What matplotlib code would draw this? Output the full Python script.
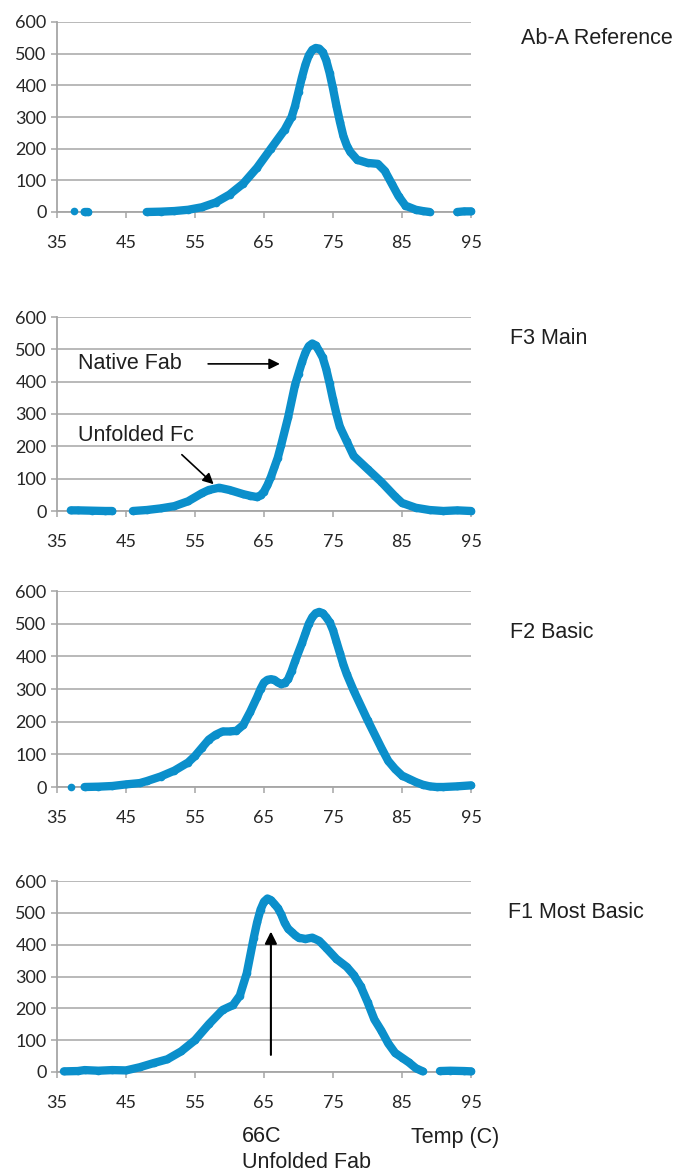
import numpy as np
import matplotlib

matplotlib.use("Agg")
import matplotlib.pyplot as plt

nan = np.nan

# Ab-A Reference
temp_ref = [37.5, nan, 39.0, 39.5, nan,
            48, 50, 52, 54, 56, 58, 60, 62, 64, 66, 68, 69, 69.5, 70, 70.5, 71,
            71.5, 72, 72.5, 73, 73.5, 74, 74.5, 75, 75.5, 76, 76.5, 77, 77.5,
            78.5, 80, 81.5, 82.5, 83.5, 84.5, 85.5, 87, 88, 89, nan, 93, 94, 95]
signal_ref = [3, nan, 0, 0, nan,
              0, 1, 3, 7, 15, 30, 55, 90, 140, 200, 260, 300, 335, 380, 425, 465,
              495, 512, 518, 516, 505, 480, 440, 390, 335, 285, 240, 210, 190,
              165, 155, 152, 130, 90, 50, 20, 7, 3, 0, nan, 0, 2, 2]

# F3 Main
temp_f3 = [37, 38, 40, 42, 43, nan,
           46, 48, 50, 52, 54, 56, 57, 58.5, 60, 62, 63, 64, 64.5, 65, 65.5,
           66, 66.5, 67, 67.5, 68.5, 69.5, 70, 70.5, 71, 71.5, 72, 72.5, 73,
           73.5, 74, 74.5, 75, 75.5, 76, 77, 78, 80, 82, 84, 85, 87, 89, 91,
           93, 95]
signal_f3 = [2, 2, 1, 0, 0, nan,
             0, 3, 8, 15, 30, 55, 65, 72, 65, 52, 47, 43, 48, 60, 80,
             105, 135, 165, 205, 290, 390, 425, 460, 490, 510, 518, 512, 495,
             475, 440, 395, 345, 300, 260, 215, 170, 130, 90, 45, 25, 10, 3, 0,
             2, 0]

# F2 Basic
temp_f2 = [37, nan,
           39, 41, 43, 45, 47, 48, 50, 52, 54, 55, 56, 57, 58, 59, 60, 61, 62,
           63, 64, 64.5, 65, 65.5, 66, 66.5, 67, 67.5, 68, 68.5, 69, 69.5, 70.5,
           71, 71.5, 72, 72.5, 73, 73.5, 74, 74.5, 75, 75.5, 76, 76.5, 77, 78,
           80, 82, 83, 84, 85, 86, 87, 88, 89, 90, 91, 93, 95]
signal_f2 = [0, nan,
             0, 1, 3, 8, 12, 18, 32, 50, 75, 95, 120, 145, 160, 170, 170, 172, 190,
             230, 275, 300, 320, 328, 330, 328, 320, 315, 318, 330, 355, 385, 440,
             470, 500, 520, 532, 536, 532, 520, 505, 480, 445, 410, 375, 345, 295,
             205, 120, 80, 55, 35, 25, 15, 7, 2, 0, 0, 2, 5]

# F1 Most Basic
temp_f1 = [36, 38, 39, 41, 43, 45, 47, 49, 51, 53, 55, 57, 59, 60.5, 61.5,
           62.5, 63.5, 64, 64.5, 65, 65.5, 66, 66.5, 67, 67.5, 68, 68.5, 69,
           69.5, 70, 71, 72, 73, 74, 75.5, 77, 78, 79, 80, 81, 82, 83, 84, 85,
           86, 87, 88, nan, 90.5, 92, 94, 95]
signal_f1 = [2, 3, 6, 4, 6, 5, 15, 28, 40, 65, 100, 150, 195, 210, 240,
             310, 420, 470, 510, 535, 545, 540, 528, 515, 495, 468, 450, 440,
             430, 422, 418, 422, 412, 390, 355, 330, 305, 270, 220, 165, 130, 90,
             60, 45, 30, 12, 2, nan, 3, 4, 3, 2]

panel_names = ["Ab-A Reference", "F3 Main", "F2 Basic", "F1 Most Basic"]
x_ticks = [35, 45, 55, 65, 75, 85, 95]
y_ticks = [0, 100, 200, 300, 400, 500, 600]

W, H = 679, 1172
LINE = "#0b8fcb"
GRID = "#a6a6a6"
TEXT = "#1f1f1f"
ANNOT_FONT = ["Liberation Sans", "DejaVu Sans"]

# pixel boxes: (top of 600 line, zero line)
boxes = [(22, 212), (317, 511), (591, 787), (881, 1072)]
name_pos = [(521, 39), (510, 339), (510, 633), (508, 912)]
left_px, right_px = 57, 471

series = [(temp_ref, signal_ref), (temp_f3, signal_f3),
          (temp_f2, signal_f2), (temp_f1, signal_f1)]

fig = plt.figure(figsize=(W / 100, H / 100), dpi=100)
axes = []
for (top, bot), (tx, ty), name in zip(boxes, series, panel_names):
    ax = fig.add_axes([left_px / W, 1 - bot / H, (right_px - left_px) / W, (bot - top) / H])
    ax.plot(tx, ty, color=LINE, lw=6, marker="o", ms=5.5, mew=0,
            solid_capstyle="round", solid_joinstyle="round", zorder=3, clip_on=False)
    ax.set_xlim(35, 95)
    ax.set_ylim(0, 600)
    ax.set_xticks(x_ticks)
    ax.set_yticks(y_ticks)
    ax.grid(axis="y", color=GRID, lw=1.1)
    for side in ["top", "right"]:
        ax.spines[side].set_visible(False)
    for side in ["left", "bottom"]:
        ax.spines[side].set_color(GRID)
        ax.spines[side].set_linewidth(1.3)
    ax.tick_params(axis="both", colors=GRID, length=4.5, width=1.1,
                   labelcolor="#262626", labelsize=13)
    ax.tick_params(axis="x", pad=12)
    ax.tick_params(axis="y", pad=3)
    for lab in ax.get_xticklabels() + ax.get_yticklabels():
        lab.set_family(["Lato", "DejaVu Sans"])
    ax.set_axisbelow(True)
    ax.patch.set_alpha(0)
    axes.append(ax)

for (px, py), name in zip(name_pos, panel_names):
    fig.text(px / W, 1 - py / H, name, fontsize=15.5, color=TEXT,
             family=ANNOT_FONT, ha="left", va="center")

# F3 annotations
ax2 = axes[1]
ax2.text(38, 455, "Native Fab", fontsize=15.5, color=TEXT, family=ANNOT_FONT,
         ha="left", va="center")
ax2.annotate("", xy=(67.7, 455), xytext=(56.5, 455),
             arrowprops=dict(arrowstyle="-|>", color="black", lw=1.2, mutation_scale=16))
ax2.text(38, 232, "Unfolded Fc", fontsize=15.5, color=TEXT, family=ANNOT_FONT,
         ha="left", va="center")
ax2.annotate("", xy=(58.0, 77), xytext=(52.8, 180),
             arrowprops=dict(arrowstyle="-|>", color="black", lw=1.2, mutation_scale=16))

# F1 annotation
ax4 = axes[3]
ax4.annotate("", xy=(66, 450), xytext=(66, 45),
             arrowprops=dict(arrowstyle="-|>", color="black", lw=1.5, mutation_scale=18))

fig.text(242 / W, 1 - 1137 / H, "66C", fontsize=15.5, color=TEXT,
         family=ANNOT_FONT, ha="left", va="center")
fig.text(242 / W, 1 - 1163 / H, "Unfolded Fab", fontsize=15.5, color=TEXT,
         family=ANNOT_FONT, ha="left", va="center")
fig.text(411 / W, 1 - 1138 / H, "Temp (C)", fontsize=15.5, color=TEXT,
         family=ANNOT_FONT, ha="left", va="center")

fig.savefig("out.png", dpi=100, facecolor="white")
